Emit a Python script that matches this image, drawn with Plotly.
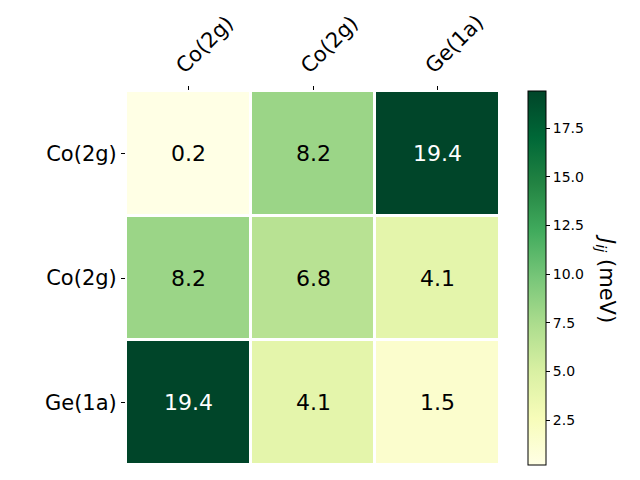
import plotly.graph_objects as go

sites = ["Co(2g)", "Co(2g)", "Ge(1a)"]
jij = [
    [0.2, 8.2, 19.4],
    [8.2, 6.8, 4.1],
    [19.4, 4.1, 1.5],
]
cbar_ticks = [2.5, 5.0, 7.5, 10.0, 12.5, 15.0, 17.5]

idx = list(range(len(sites)))
vmax = max(max(r) for r in jij)
vmin = min(min(r) for r in jij)
text_colors = [["white" if v > 0.7 * vmax else "black" for v in row] for row in jij]

# page body adds ~8px offset, so shift the plot area back
off = 8
left, top, side = 126 - off, 91 - off, 374

fig = go.Figure()
fig.add_trace(go.Heatmap(
    z=jij, x=idx, y=idx,
    colorscale="YlGn", zmin=vmin, zmax=vmax,
    xgap=3, ygap=3,
    showscale=True,
    colorbar=dict(
        x=(528 - 126) / side, xanchor="left", xpad=0,
        y=0.5, yanchor="middle", len=1, lenmode="fraction", ypad=0,
        thickness=18, outlinewidth=1, outlinecolor="black",
        tickvals=cbar_ticks, ticktext=[f"{t:.1f}" for t in cbar_ticks],
        ticks="outside", ticklen=4, tickcolor="black",
        tickfont=dict(size=14, color="black", family="DejaVu Sans"),
    ),
    hoverinfo="skip",
))

for i, row in enumerate(jij):
    for j, v in enumerate(row):
        fig.add_annotation(
            x=j, y=i, text=f"{v:.1f}", showarrow=False,
            font=dict(size=22, color=text_colors[i][j], family="DejaVu Sans"),
        )

fig.add_annotation(
    x=(606 - 126) / side, y=0.5, xref="paper", yref="paper",
    xanchor="center", yanchor="middle",
    text="<i>J</i><sub><i>ij</i></sub> (meV)", textangle=90,
    showarrow=False, font=dict(size=21, color="black", family="DejaVu Sans"),
)

fig.update_xaxes(
    side="top", tickvals=idx, ticktext=sites, tickangle=-45,
    ticks="outside", ticklen=4, tickcolor="black", ticklabelshift=-11,
    tickfont=dict(size=21, color="black", family="DejaVu Sans"),
    showgrid=False, zeroline=False, range=[-0.5, 2.5],
)
fig.update_yaxes(
    tickvals=idx, ticktext=sites, autorange=False, range=[2.5, -0.5],
    ticks="outside", ticklen=4, tickcolor="black",
    tickfont=dict(size=21, color="black", family="DejaVu Sans"),
    showgrid=False, zeroline=False,
)
fig.update_layout(
    width=640, height=480,
    margin=dict(l=left, r=640 - left - side, t=top, b=480 - top - side,
                autoexpand=False),
    plot_bgcolor="white", paper_bgcolor="white",
    font=dict(family="DejaVu Sans"),
)
fig.write_html("out.html")
